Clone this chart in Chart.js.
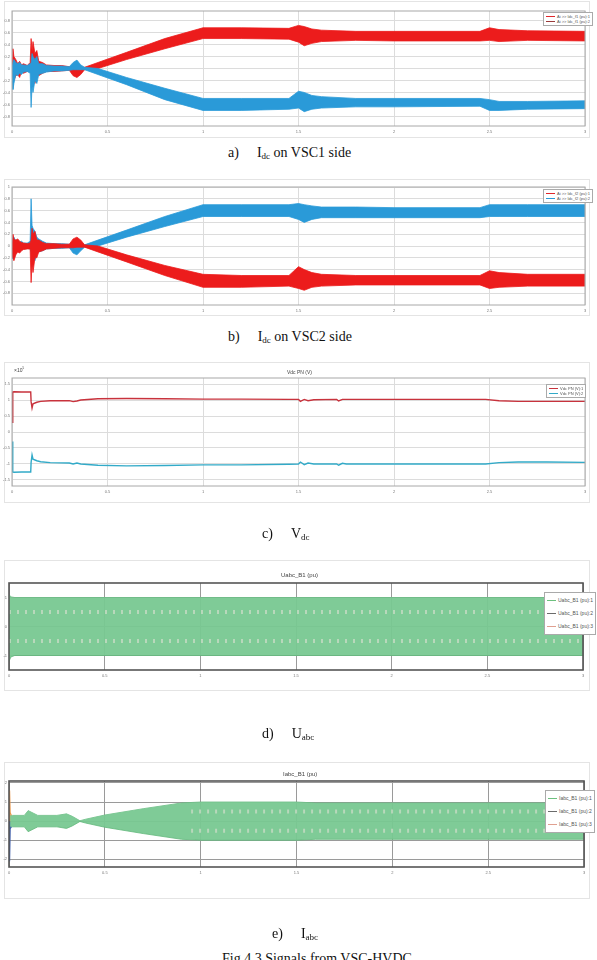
<!DOCTYPE html>
<html lang="en">
<head>
<meta charset="UTF-8">
<title>Signals from VSC-HVDC</title>
<style>
    body {
        margin: 0;
        width: 597px;
        height: 960px;
        overflow: hidden;
        background: #ffffff;
        position: relative;
        font-family: Arial, "Liberation Sans", sans-serif;
    }
    .panel {
        position: absolute;
        left: 4px;
        width: 586px;
        border: 1px solid #e4e4e4;
        box-sizing: border-box;
    }
    canvas {
        position: absolute;
        left: 0;
    }
    .cap {
        position: absolute;
        font-family: "Liberation Serif", "DejaVu Serif", serif;
        font-size: 14px;
        color: #111;
        white-space: nowrap;
    }
    .cap sub {
        font-size: 9px;
        vertical-align: -2px;
    }
    .cap .t {
        margin-left: 18px;
    }
    .ttl {
        position: absolute;
        font-size: 5px;
        color: #444;
        white-space: nowrap;
    }
    .legend {
        position: absolute;
        background: #fff;
        border: 1px solid #aaa;
        font-size: 4px;
        color: #555;
        padding: 1px 2px;
        line-height: 5px;
    }
    .legend .row {
        display: flex;
        align-items: center;
        white-space: nowrap;
    }
    .legend .sw {
        display: inline-block;
        width: 9px;
        height: 0;
        border-top: 1px solid;
        margin-right: 2px;
    }
</style>
<script src="https://cdn.jsdelivr.net/npm/chart.js"></script>
</head>
<body>
<div class="panel" style="top:1px;height:137px"></div>
<div class="panel" style="top:179px;height:137px"></div>
<div class="panel" style="top:362px;height:141px"></div>
<div class="panel" style="top:560px;height:131px"></div>
<div class="panel" style="top:762px;height:137px"></div>

<canvas id="chartA" width="597" height="137" style="top:0px"></canvas>
<canvas id="chartB" width="597" height="137" style="top:178px"></canvas>
<canvas id="chartC" width="597" height="140" style="top:362px"></canvas>
<canvas id="chartD" width="597" height="130" style="top:560px"></canvas>
<canvas id="chartE" width="597" height="136" style="top:762px"></canvas>

<div class="legend" style="left:543px;top:12px">
    <div class="row"><span class="sw" style="color:#e0262a"></span>Ai &gt;&gt; Idc_f1 (pu):1</div>
    <div class="row"><span class="sw" style="color:#9a3a3a"></span>Ai &gt;&gt; Idc_f1 (pu):2</div>
</div>
<div class="legend" style="left:543px;top:189px">
    <div class="row"><span class="sw" style="color:#e0262a"></span>Ai &gt;&gt; Idc_f2 (pu):1</div>
    <div class="row"><span class="sw" style="color:#2a9ad8"></span>Ai &gt;&gt; Idc_f2 (pu):2</div>
</div>
<div class="ttl" style="left:14px;top:366px">&times;10<sup style="font-size:3px">5</sup></div>
<div class="ttl" style="left:287px;top:369px">Vdc PN (V)</div>
<div class="legend" style="left:546px;top:384px">
    <div class="row"><span class="sw" style="color:#c8323c"></span>Vdc PN (V):1</div>
    <div class="row"><span class="sw" style="color:#32aac8"></span>Vdc PN (V):2</div>
</div>
<div class="ttl" style="left:281px;top:572px;font-size:6px">Uabc_B1 (pu)</div>
<div class="legend" style="left:544px;top:592px;line-height:13px;font-size:5px">
    <div class="row"><span class="sw" style="color:#6cc07e"></span>Uabc_B1 (pu):1</div>
    <div class="row"><span class="sw" style="color:#6b6b6b"></span>Uabc_B1 (pu):2</div>
    <div class="row"><span class="sw" style="color:#e0a090"></span>Uabc_B1 (pu):3</div>
</div>
<div class="ttl" style="left:283px;top:771px;font-size:6px">Iabc_B1 (pu)</div>
<div class="legend" style="left:545px;top:790px;line-height:13px;font-size:5px">
    <div class="row"><span class="sw" style="color:#6cc07e"></span>Iabc_B1 (pu):1</div>
    <div class="row"><span class="sw" style="color:#6b6b6b"></span>Iabc_B1 (pu):2</div>
    <div class="row"><span class="sw" style="color:#e0a090"></span>Iabc_B1 (pu):3</div>
</div>

<div class="cap" style="left:228px;top:145px">a)<span class="t">I<sub>dc</sub> on VSC1 side</span></div>
<div class="cap" style="left:228px;top:329px">b)<span class="t">I<sub>dc</sub> on VSC2 side</span></div>
<div class="cap" style="left:262px;top:526px">c)<span class="t">V<sub>dc</sub></span></div>
<div class="cap" style="left:262px;top:726px">d)<span class="t">U<sub>abc</sub></span></div>
<div class="cap" style="left:272px;top:926px">e)<span class="t">I<sub>abc</sub></span></div>
<div class="cap" style="left:222px;top:951px">Fig 4.3 Signals from VSC-HVDC</div>

<script>
// time axis ticks shared by all five plots (s)
const xTicks = [0, 0.5, 1, 1.5, 2, 2.5, 3];

// a) / b) DC current, envelopes of the noisy traces (pu)
const timeIdc = [0, 0.005, 0.01, 0.02, 0.03, 0.04, 0.05, 0.06, 0.08, 0.095,
    0.1, 0.105, 0.11, 0.12, 0.13, 0.14, 0.16, 0.18, 0.22, 0.26,
    0.3, 0.32, 0.34, 0.36, 0.38, 0.45, 0.6, 0.8, 1.0, 1.2,
    1.45, 1.5, 1.53, 1.57, 1.62, 1.8, 2.0, 2.45, 2.5, 2.55,
    2.7, 3.0];

const idc1RedHi = [0.05, 0.33, 0.2, 0.15, 0.08, 0.12, 0.06, 0.08, 0.05, 0.1,
    0.5, 0.3, 0.45, 0.25, 0.3, 0.12, 0.1, 0.06, 0.05, 0.05,
    0.03, 0.02, 0.0, -0.02, 0.02, 0.1, 0.27, 0.5, 0.68, 0.68,
    0.67, 0.72, 0.7, 0.66, 0.64, 0.62, 0.62, 0.62, 0.68, 0.65,
    0.63, 0.62];
const idc1RedLo = [-0.05, -0.15, -0.2, -0.12, -0.1, -0.15, -0.05, -0.08, -0.05, -0.05,
    -0.05, -0.2, -0.1, -0.25, -0.1, -0.12, -0.08, -0.05, -0.05, -0.04,
    -0.03, -0.12, -0.15, -0.1, -0.02, 0.0, 0.15, 0.33, 0.5, 0.5,
    0.49, 0.44, 0.38, 0.42, 0.45, 0.47, 0.46, 0.46, 0.47, 0.45,
    0.47, 0.46];
const idc1BlueHi = [0.05, 0.1, 0.15, 0.1, 0.08, 0.1, 0.06, 0.06, 0.05, 0.08,
    0.1, 0.25, 0.2, 0.15, 0.2, 0.08, 0.08, 0.05, 0.04, 0.04,
    0.03, 0.1, 0.14, 0.06, 0.02, 0.0, -0.15, -0.33, -0.5, -0.5,
    -0.5, -0.38, -0.4, -0.45, -0.47, -0.5, -0.5, -0.5, -0.52, -0.55,
    -0.55, -0.54];
const idc1BlueLo = [-0.05, -0.35, -0.25, -0.1, -0.12, -0.08, -0.1, -0.06, -0.05, -0.08,
    -0.65, -0.3, -0.4, -0.2, -0.25, -0.1, -0.08, -0.06, -0.04, -0.04,
    -0.03, -0.02, -0.02, -0.02, -0.02, -0.1, -0.27, -0.52, -0.7, -0.7,
    -0.68, -0.66, -0.72, -0.68, -0.66, -0.64, -0.64, -0.63, -0.7, -0.7,
    -0.68, -0.67];

const idc2BlueHi = [0.05, 0.12, 0.15, 0.08, 0.1, 0.06, 0.08, 0.05, 0.05, 0.08,
    0.8, 0.35, 0.3, 0.25, 0.15, 0.12, 0.08, 0.05, 0.04, 0.04,
    0.03, 0.03, 0.02, 0.02, 0.02, 0.1, 0.27, 0.5, 0.7, 0.7,
    0.7, 0.72, 0.7, 0.68, 0.66, 0.66, 0.65, 0.65, 0.7, 0.7,
    0.7, 0.7];
const idc2BlueLo = [-0.05, -0.22, -0.2, -0.1, -0.08, -0.1, -0.06, -0.05, -0.04, -0.05,
    -0.1, -0.35, -0.15, -0.25, -0.12, -0.1, -0.08, -0.05, -0.04, -0.04,
    -0.03, -0.12, -0.15, -0.08, -0.02, 0.0, 0.15, 0.33, 0.5, 0.5,
    0.5, 0.45, 0.4, 0.45, 0.48, 0.48, 0.48, 0.48, 0.5, 0.5,
    0.5, 0.5];
const idc2RedHi = [0.05, 0.2, 0.12, 0.1, 0.12, 0.08, 0.06, 0.05, 0.04, 0.05,
    0.1, 0.3, 0.2, 0.25, 0.1, 0.1, 0.06, 0.04, 0.04, 0.03,
    0.03, 0.12, 0.15, 0.1, 0.02, 0.0, -0.15, -0.33, -0.48, -0.5,
    -0.5, -0.35, -0.4, -0.45, -0.48, -0.5, -0.5, -0.5, -0.42, -0.45,
    -0.48, -0.48];
const idc2RedLo = [-0.05, -0.2, -0.25, -0.15, -0.1, -0.12, -0.08, -0.06, -0.05, -0.05,
    -0.62, -0.3, -0.45, -0.2, -0.2, -0.1, -0.08, -0.05, -0.04, -0.03,
    -0.03, -0.03, -0.02, -0.02, -0.02, -0.1, -0.27, -0.5, -0.7, -0.7,
    -0.68, -0.72, -0.75, -0.7, -0.68, -0.66, -0.66, -0.66, -0.72, -0.7,
    -0.68, -0.68];
const idcTicksA = [-0.8, -0.6, -0.4, -0.2, 0, 0.2, 0.4, 0.6, 0.8];
const idcTicksB = [-0.8, -0.6, -0.4, -0.2, 0, 0.2, 0.4, 0.6, 0.8, 1];

// c) DC voltage (x 1e5 V)
const timeVdc = [0, 0.004, 0.01, 0.05, 0.098, 0.1, 0.105, 0.11, 0.13, 0.15,
    0.2, 0.3, 0.32, 0.34, 0.36, 0.45, 0.6, 0.8, 1.0, 1.2,
    1.45, 1.5, 1.51, 1.53, 1.55, 1.58, 1.7, 1.71, 1.73, 1.75,
    2.0, 2.3, 2.48, 2.55, 2.65, 2.8, 3.0];
const vdc1 = [0.3, 1.25, 1.26, 1.25, 1.25, 0.95, 0.75, 0.88, 0.93, 0.96,
    0.98, 0.98, 0.95, 0.97, 1.0, 1.04, 1.05, 1.04, 1.03, 1.03,
    1.02, 1.02, 0.96, 1.02, 0.98, 1.01, 1.02, 0.97, 1.02, 1.02,
    1.02, 1.02, 1.02, 0.98, 0.96, 0.96, 0.96];
const vdc2 = [-0.3, -1.25, -1.26, -1.25, -1.25, -0.95, -0.72, -0.85, -0.9, -0.93,
    -0.96, -0.97, -1.0, -0.97, -1.0, -1.04, -1.06, -1.05, -1.03, -1.03,
    -1.01, -1.0, -0.94, -1.02, -0.97, -1.0, -1.0, -1.04, -0.98, -1.0,
    -1.0, -1.0, -1.0, -0.96, -0.94, -0.94, -0.95];
const vdcTicks = [-1.5, -1, -0.5, 0, 0.5, 1, 1.5];

// d) three-phase voltage, envelope of the three sinusoids (pu)
const timeUabc = [0, 0.01, 0.03, 3.0];
const uabcHi = [1.1, 1.02, 1.0, 1.0];
const uabcLo = [-1.2, -1.05, -1.0, -1.0];
const uabcInnerT = [0, 3.0];
const uabcInnerHi = [0.5, 0.5];
const uabcInnerLo = [-0.5, -0.5];
const uabcTicks = [-1, 0, 1];

// e) three-phase current, envelope (pu)
const timeIabc = [0, 0.02, 0.08, 0.1, 0.12, 0.15, 0.25, 0.3, 0.33, 0.37,
    0.4, 0.5, 0.7, 0.9, 1.0, 1.5, 1.6, 3.0];
const iabcHi = [0.3, 0.3, 0.3, 0.55, 0.45, 0.3, 0.3, 0.38, 0.25, 0.02,
    0.1, 0.32, 0.65, 0.95, 1.0, 1.0, 0.95, 0.95];
const iabcLo = [-0.3, -0.3, -0.3, -0.55, -0.45, -0.3, -0.3, -0.38, -0.25, -0.02,
    -0.1, -0.32, -0.65, -0.95, -1.0, -1.0, -0.95, -0.95];
const iabcInnerT = [0.95, 3.0];
const iabcInnerHi = [0.5, 0.5];
const iabcInnerLo = [-0.5, -0.5];
const iabcSpikeT = [0, 0.003, 0.006, 0.012];
const iabcSpikeA = [0, 1.6, 0.45, 0.3];
const iabcSpikeB = [0, -2.1, -0.4, -0.3];
const iabcTicks = [-2, -1, 0, 1, 2];

function pts(t, v) {
    return t.map((x, i) => ({ x: x, y: v[i] }));
}

function band(t, hi, lo, color, edge) {
    return [
        { data: pts(t, hi), borderColor: edge || color, borderWidth: 0.8, pointRadius: 0, fill: false },
        { data: pts(t, lo), borderColor: edge || color, borderWidth: 0.8, pointRadius: 0, fill: '-1', backgroundColor: color }
    ];
}

function line(t, v, color, width, dash) {
    return { data: pts(t, v), borderColor: color, borderWidth: width, pointRadius: 0, fill: false, borderDash: dash || [] };
}

// box round the plot area
const framePlugin = {
    id: 'frame',
    afterDraw(chart, args, opts) {
        const a = chart.chartArea;
        const ctx = chart.ctx;
        ctx.save();
        ctx.strokeStyle = opts.color;
        ctx.lineWidth = opts.width;
        ctx.strokeRect(a.left, a.top, a.right - a.left, a.bottom - a.top);
        ctx.restore();
    }
};

function makeChart(id, panelTop, panelH, area, yMin, yMax, yTicks, datasets, style) {
    // later datasets are painted on top
    datasets.forEach((d, i) => { d.order = datasets.length - i; });
    const ctx = document.getElementById(id).getContext('2d');
    return new Chart(ctx, {
        type: 'line',
        data: { datasets: datasets },
        options: {
            responsive: false,
            animation: false,
            devicePixelRatio: 1,
            layout: { padding: { left: 0, right: 597 - area.right, top: area.top - panelTop, bottom: 0 } },
            plugins: {
                legend: { display: false },
                tooltip: { enabled: false },
                frame: { color: style.frame, width: style.frameWidth }
            },
            scales: {
                x: {
                    type: 'linear',
                    min: 0,
                    max: 3,
                    afterBuildTicks: s => { s.ticks = xTicks.map(v => ({ value: v })); },
                    afterFit: s => { s.height = panelTop + panelH - area.bottom; },
                    grid: { color: style.grid, drawTicks: false },
                    border: { display: false },
                    ticks: { font: { size: 4 }, color: '#777', padding: 3, maxRotation: 0, callback: v => String(v) }
                },
                y: {
                    type: 'linear',
                    min: yMin,
                    max: yMax,
                    afterBuildTicks: s => { s.ticks = yTicks.map(v => ({ value: v })); },
                    afterFit: s => { s.width = area.left; },
                    grid: { color: style.grid, drawTicks: false },
                    border: { display: false },
                    ticks: { font: { size: 4 }, color: '#777', padding: 2, callback: v => String(v) }
                }
            }
        },
        plugins: [framePlugin]
    });
}

const thin = { grid: '#dcdcdc', frame: '#a8a8a8', frameWidth: 1 };
const heavy = { grid: '#9a9a9a', frame: '#555555', frameWidth: 1.6 };
const greenFill = 'rgba(120,200,145,0.95)';
const greenEdge = '#62b87b';
const dots = 'rgba(232,226,216,0.55)';

makeChart('chartA', 0, 137, { left: 12, right: 585, top: 11, bottom: 126 }, -0.96, 0.96, idcTicksA,
    band(timeIdc, idc1RedHi, idc1RedLo, '#ec1c1c').concat(
    band(timeIdc, idc1BlueHi, idc1BlueLo, '#2a9ad8')), thin);

makeChart('chartB', 178, 137, { left: 12, right: 585, top: 187, bottom: 305 }, -1, 1, idcTicksB,
    band(timeIdc, idc2BlueHi, idc2BlueLo, '#2a9ad8').concat(
    band(timeIdc, idc2RedHi, idc2RedLo, '#ec1c1c')), thin);

makeChart('chartC', 362, 140, { left: 12, right: 585, top: 378, bottom: 486 }, -1.69, 1.69, vdcTicks,
    [line(timeVdc, vdc1, '#c8323c', 1.4), line(timeVdc, vdc2, '#32aac8', 1.4)], thin);

makeChart('chartD', 560, 130, { left: 9, right: 583, top: 583, bottom: 670 }, -1.5, 1.5, uabcTicks,
    band(timeUabc, uabcHi, uabcLo, greenFill, greenEdge).concat([
    line(uabcInnerT, uabcInnerHi, dots, 4, [2, 6]),
    line(uabcInnerT, uabcInnerLo, dots, 4, [2, 6])]), heavy);

makeChart('chartE', 762, 136, { left: 9, right: 584, top: 781, bottom: 867 }, -2.4, 2.1, iabcTicks,
    band(timeIabc, iabcHi, iabcLo, greenFill, greenEdge).concat([
    line(iabcInnerT, iabcInnerHi, dots, 4, [2, 6]),
    line(iabcInnerT, iabcInnerLo, dots, 4, [2, 6]),
    line(iabcSpikeT, iabcSpikeA, '#e8964a', 1.2),
    line(iabcSpikeT, iabcSpikeB, '#3a5aa8', 1.2)]), heavy);
</script>
</body>
</html>
